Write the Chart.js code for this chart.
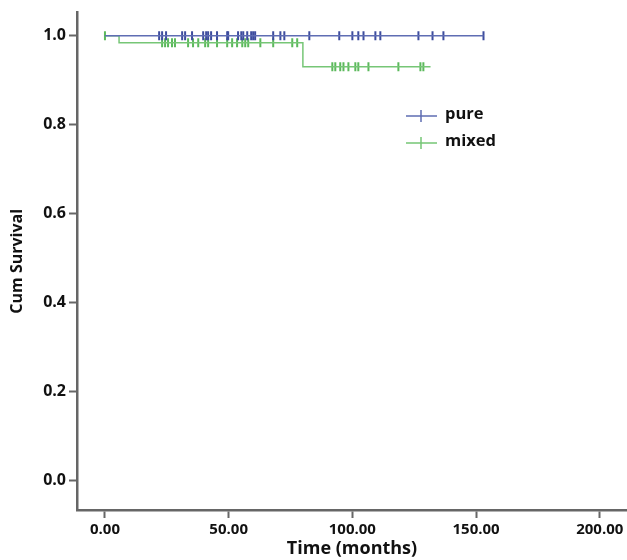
<!DOCTYPE html>
<html>
<head>
<meta charset="utf-8">
<script src="https://cdn.jsdelivr.net/npm/chart.js@4"></script>
<style>
  html, body { margin: 0; padding: 0; background: #fff; }
</style>
</head>
<body>
<canvas id="kmChart" width="627" height="560"></canvas>
<script>
// tick labels
var xTicks = [0, 50, 100, 150, 200];
var yTicks = [0, 0.2, 0.4, 0.6, 0.8, 1.0];

// group names
var groups = ['pure', 'mixed'];

// pure: no events, survival stays 1.0 until last follow-up
var pureEventTimes = [0];
var pureSurvival = [1.0];
var pureEnd = 153;
var pureCensored = [21.9, 23.1, 24.7, 31.2, 32.4, 35.2, 39.7, 40.9, 41.7, 42.9, 45.3, 49.4, 49.8,
                    53.8, 55.1, 55.9, 57.5, 59.1, 59.9, 60.7, 68.0, 70.9, 72.5, 82.6, 94.7, 100.0,
                    102.4, 104.5, 109.3, 111.3, 126.7, 132.4, 136.8, 153.0];

// mixed: two events
var mixedEventTimes = [0, 5.7, 80];
var mixedSurvival = [1.0, 0.984, 0.930];
var mixedEnd = 131.6;
var mixedCensored = [0, 23.1, 24.3, 25.5, 27.1, 28.3, 33.6, 35.6, 37.7, 40.5, 41.7, 45.3, 49.4, 51.4,
                     53.4, 55.5, 56.7, 57.9, 62.8, 68.0, 75.7, 77.7, 91.9, 93.1, 95.1, 96.4, 98.4,
                     101.2, 102.4, 106.5, 118.6, 127.5, 128.7];

var colors = { pure: '#5f6db3', mixed: '#76c676' };
var markColors = { pure: '#3d4c9e', mixed: '#5bb95b' };

function stepLine(times, surv, end) {
    var pts = [];
    for (var i = 0; i < times.length; i++) {
        pts.push({ x: times[i], y: surv[i] });
    }
    pts.push({ x: end, y: surv[surv.length - 1] });
    return pts;
}

function survAt(times, surv, t) {
    var s = surv[0];
    for (var i = 0; i < times.length; i++) {
        if (times[i] <= t) s = surv[i];
    }
    return s;
}

function censorPoints(cens, times, surv) {
    return cens.map(function (t) { return { x: t, y: survAt(times, surv, t) }; });
}

var legendPlugin = {
    id: 'kmLegend',
    afterDraw: function (chart) {
        var ctx = chart.ctx;
        ctx.save();
        var rows = [
            { label: groups[0], color: colors.pure, y: 116 },
            { label: groups[1], color: colors.mixed, y: 143 }
        ];
        rows.forEach(function (r) {
            ctx.strokeStyle = r.color;
            ctx.lineWidth = 1.5;
            ctx.beginPath();
            ctx.moveTo(406, r.y);
            ctx.lineTo(437, r.y);
            ctx.moveTo(421, r.y - 6);
            ctx.lineTo(421, r.y + 6);
            ctx.stroke();
            ctx.fillStyle = '#111';
            ctx.font = 'bold 16.5px "Open Sans"';
            ctx.textBaseline = 'middle';
            ctx.fillText(r.label, 445, r.y - 2);
        });
        ctx.restore();
    }
};

var ctx = document.getElementById('kmChart').getContext('2d');
new Chart(ctx, {
    type: 'scatter',
    data: {
        datasets: [
            {
                label: 'pure',
                data: stepLine(pureEventTimes, pureSurvival, pureEnd),
                showLine: true, stepped: true,
                borderColor: colors.pure, borderWidth: 1.5,
                pointRadius: 0
            },
            {
                label: 'mixed',
                data: stepLine(mixedEventTimes, mixedSurvival, mixedEnd),
                showLine: true, stepped: true,
                borderColor: colors.mixed, borderWidth: 1.5,
                pointRadius: 0
            },
            {
                label: 'pure censored',
                data: censorPoints(pureCensored, pureEventTimes, pureSurvival),
                showLine: false,
                pointStyle: 'line', rotation: 90,
                pointRadius: 4.5, borderWidth: 2,
                borderColor: markColors.pure, backgroundColor: markColors.pure
            },
            {
                label: 'mixed censored',
                data: censorPoints(mixedCensored, mixedEventTimes, mixedSurvival),
                showLine: false,
                pointStyle: 'line', rotation: 90,
                pointRadius: 4.5, borderWidth: 2,
                borderColor: markColors.mixed, backgroundColor: markColors.mixed
            }
        ]
    },
    options: {
        responsive: false,
        animation: false,
        layout: { autoPadding: false, padding: { top: 12, right: 0, left: 0, bottom: 0 } },
        plugins: { legend: { display: false }, tooltip: { enabled: false } },
        scales: {
            x: {
                type: 'linear', min: -11.3, max: 211,
                afterBuildTicks: function (s) { s.ticks = xTicks.map(function (v) { return { value: v }; }); },
                afterFit: function (s) { s.height = 50; },
                grid: { drawOnChartArea: false, drawTicks: true, tickLength: 8, tickColor: '#666', tickWidth: 2 },
                border: { color: '#666', width: 2.5 },
                ticks: {
                    color: '#111', padding: 3, autoSkip: false, maxRotation: 0,
                    font: { family: 'Open Sans', weight: 'bold', size: 15 },
                    callback: function (v) { return v.toFixed(2); }
                },
                title: {
                    display: true, text: 'Time (months)', color: '#111',
                    font: { family: 'Open Sans', weight: 'bold', size: 18 },
                    padding: { top: 0, bottom: 0 }
                }
            },
            y: {
                min: -0.067, max: 1.052,
                afterBuildTicks: function (s) { s.ticks = yTicks.map(function (v) { return { value: v }; }); },
                afterFit: function (s) { s.width = 77; },
                grid: { drawOnChartArea: false, drawTicks: true, tickLength: 8, tickColor: '#666', tickWidth: 2 },
                border: { color: '#666', width: 2.5 },
                ticks: {
                    color: '#111', padding: 3, autoSkip: false,
                    font: { family: 'Open Sans', weight: 'bold', size: 16 },
                    callback: function (v) { return v.toFixed(1); }
                },
                title: {
                    display: true, text: 'Cum Survival', color: '#111',
                    font: { family: 'Open Sans', weight: 'bold', size: 16 },
                    padding: { top: 8, bottom: 0 }
                }
            }
        }
    },
    plugins: [legendPlugin]
});
</script>
</body>
</html>
